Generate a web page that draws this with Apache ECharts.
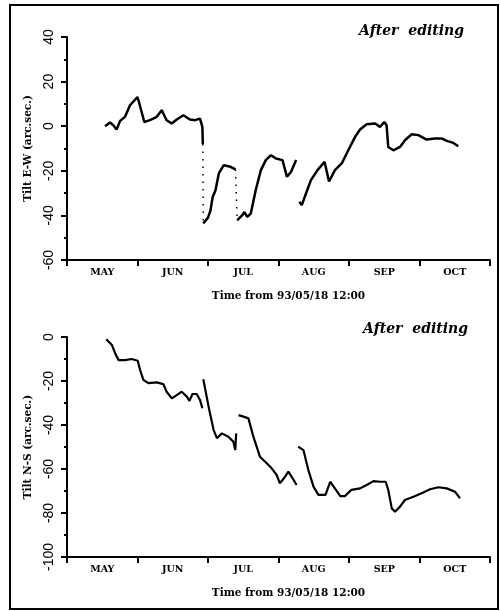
<!DOCTYPE html>
<html>
<head>
<meta charset="utf-8">
<script src="https://cdn.jsdelivr.net/npm/echarts@6/dist/echarts.min.js"></script>
<style>
  html, body { margin: 0; padding: 0; background: #fff; }
  #main { width: 500px; height: 611px; }
</style>
</head>
<body>
<div id="main"></div>
<script>
// month labels, centred between the 30-day ticks
let months = ['MAY', 'JUN', 'JUL', 'AUG', 'SEP', 'OCT'];

// Tilt E-W, days from 93/05/18 12:00 (null = gap)
let ewDays = [16.2, 18.3, 19.7, 21.1, 22.6, 24.7, 26.8, 30, 31, 32.9, 35.3, 38.2, 40.3, 41, 42.4, 44.6, 46.7, 49.5, 52.3, 54.5, 56.6, 57.6, 57.8,
    57.9,
    58, 60, 61, 62, 63.2, 64.6, 66.7, 69.6, 71.7,
    72,
    72.4, 74.6, 75.5, 76.7, 78.2, 80.3, 82.5, 84.6, 86.8, 88.9, 91.7, 93.6, 95.3, 97.5,
    98.2,
    98.9, 99.9, 101.7, 103.8, 106.6, 109.6, 111.5, 114, 116.9, 119.7, 122.6, 124.7, 127.5, 131.1, 133.2, 135, 136, 136.7, 138.9, 141.7, 143.8, 146.7, 149.5, 153, 156.6, 159.4, 161.6, 164.4, 166.5];
let ewValues = [0, 1.7, 0.4, -1.5, 2.4, 4.2, 9.4, 13.1, 9.4, 1.9, 2.7, 4.2, 7.2, 5.7, 2.7, 1.2, 3.0, 4.9, 3.0, 2.7, 3.4, -0.3, -8,
    null,
    -43.6, -41, -38, -31.7, -28.7, -21.2, -17.5, -18.2, -19.4,
    null,
    -42.2, -39.9, -38.5, -40.7, -39.2, -28.7, -19.7, -15.2, -13, -14.5, -15.2, -22.7, -20.5, -15.2,
    null,
    -33.9, -35.4, -30.2, -24.2, -19.7, -16, -24.8, -19.7, -16.7, -10.8, -4.8, -1.5, 0.9, 1.2, -0.3, 1.9, 0.4, -9.3, -10.8, -9.3, -6.3, -3.6, -4, -6, -5.5, -5.5, -6.6, -7.5, -9];

// dotted jumps in E-W
let ewJumpDays = [57.8, 58, 58.2, 71.7, 72.4];
let ewJumpValues = [-8, -43.6, null, -19.4, -42.2];

// Tilt N-S
let nsDays = [16.7, 19.1, 20.5, 21.9, 24.7, 27.5, 30.1, 31.1, 32.5, 34.6, 38.2, 41, 42.4, 44.6, 46.7, 48.8, 51, 52.1, 53.4, 55.2, 56.6, 57.6,
    57.8,
    58, 60.5, 62.4, 63.8, 65.9, 68.7, 70.8, 71.6, 72,
    72.5,
    73, 75.1, 77.2, 79.3, 82.1, 85, 87.1, 89.2, 90.6, 92.8, 94.2, 96, 97.7,
    98,
    98.4, 100.6, 102.7, 104.9, 107, 110, 112, 114, 116.3, 118.3, 121, 124.7, 127.5, 130.4, 133.2, 135.6, 136.7, 138.2, 139.6, 141.7, 143.8, 147.4, 150.9, 154.5, 158, 161.6, 165.1, 167.2];
let nsValues = [-1, -3.6, -7.4, -10.5, -10.5, -10, -10.8, -15, -19.5, -21, -20.6, -21.4, -24.9, -27.9, -26.4, -24.9, -27.1, -29, -25.9, -25.9, -28.6, -32.4,
    null,
    -19.2, -33, -42.3, -46, -43.8, -45.3, -47.6, -51.4, -43.8,
    null,
    -35.5, -36.2, -37, -45.3, -54.4, -57.4, -59.7, -62.7, -66.5, -63.5, -61.2, -64.2, -67.3,
    null,
    -49.8, -51.4, -60.5, -68, -71.8, -71.8, -65.8, -68.8, -72.3, -72.3, -69.5, -68.8, -67.3, -65.5, -65.8, -65.8, -69.5, -77.9, -79.4, -77.1, -74.1, -72.6, -71, -69.2, -68.3, -68.8, -70.3, -73.3];

function pairs(xs, ys) {
    return xs.map(function (x, i) { return [x, ys[i]]; });
}

let myChart = echarts.init(document.getElementById('main'));

let serifBold = { fontFamily: 'DejaVu Serif', fontWeight: 'bold', color: '#000' };

function timeAxis(gridIndex) {
    return {
        type: 'value', gridIndex: gridIndex, min: 0, max: 180, interval: 30,
        position: 'bottom',
        axisLine: { show: true, onZero: false, lineStyle: { color: '#000', width: 2 } },
        axisTick: { show: true, length: 6, lineStyle: { color: '#000', width: 2 } },
        axisLabel: { show: false },
        splitLine: { show: false }
    };
}

function monthAxis(gridIndex) {
    return {
        type: 'category', gridIndex: gridIndex, data: months, boundaryGap: true,
        position: 'bottom',
        axisLine: { show: false },
        axisTick: { show: false },
        axisLabel: Object.assign({ fontSize: 9.5, margin: 8 }, serifBold),
        name: 'Time from 93/05/18 12:00',
        nameLocation: 'middle',
        nameGap: 31,
        nameTextStyle: Object.assign({ fontSize: 10.5, padding: [0, 0, 0, 20] }, serifBold)
    };
}

function tiltAxis(gridIndex, min, max, name) {
    return {
        type: 'value', gridIndex: gridIndex, min: min, max: max, interval: 20,
        axisLine: { show: true, onZero: false, lineStyle: { color: '#000', width: 2 } },
        axisTick: { show: true, length: 6, lineStyle: { color: '#000', width: 2 } },
        minorTick: { show: true, splitNumber: 2, length: 3, lineStyle: { color: '#000', width: 2 } },
        axisLabel: { rotate: 90, fontSize: 14, fontFamily: 'Liberation Sans', color: '#000', margin: 11 },
        splitLine: { show: false },
        name: name,
        nameLocation: 'middle',
        nameGap: 30,
        nameTextStyle: Object.assign({ fontSize: 10.5 }, serifBold)
    };
}

let line = { type: 'line', showSymbol: false, symbol: 'none', connectNulls: false, animation: false,
    lineStyle: { color: '#000', width: 2.5 } };

let options = {
    backgroundColor: '#fff',
    animation: false,
    grid: [
        { left: 67, top: 37, width: 423, height: 223 },
        { left: 67, top: 337, width: 423, height: 220 }
    ],
    xAxis: [timeAxis(0), monthAxis(0), timeAxis(1), monthAxis(1)],
    yAxis: [
        tiltAxis(0, -60, 40, 'Tilt E-W (arc.sec.)'),
        tiltAxis(1, -100, 0, 'Tilt N-S (arc.sec.)')
    ],
    graphic: [
        { type: 'rect', shape: { x: 10, y: 5, width: 488, height: 604 },
          style: { fill: 'none', stroke: '#000', lineWidth: 2 } },
        { type: 'text', right: 36, top: 24,
          style: { text: 'After  editing', font: 'italic bold 14px "DejaVu Serif"', fill: '#000' } },
        { type: 'text', right: 32, top: 322,
          style: { text: 'After  editing', font: 'italic bold 14px "DejaVu Serif"', fill: '#000' } }
    ],
    series: [
        Object.assign({}, line, { xAxisIndex: 0, yAxisIndex: 0, data: pairs(ewDays, ewValues) }),
        Object.assign({}, line, { xAxisIndex: 0, yAxisIndex: 0, data: pairs(ewJumpDays, ewJumpValues),
            lineStyle: { color: '#000', width: 1.5, type: [1.5, 6] } }),
        Object.assign({}, line, { xAxisIndex: 2, yAxisIndex: 1, data: pairs(nsDays, nsValues),
            lineStyle: { color: '#000', width: 2.2 } })
    ]
};
myChart.setOption(options);
</script>
</body>
</html>
